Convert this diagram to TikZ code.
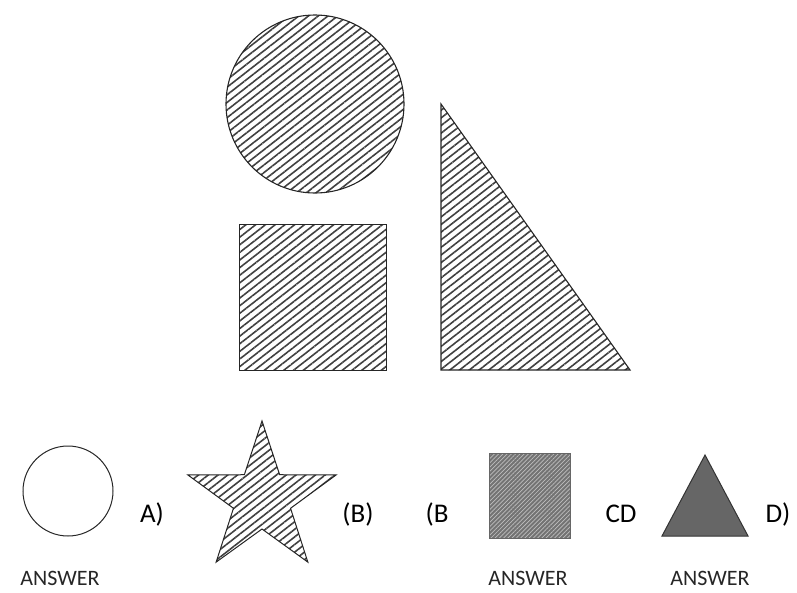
\documentclass[tikz,border=0pt]{standalone}
\usepackage{fontspec}
\setmainfont{Carlito}
\usetikzlibrary{patterns.meta}
\begin{document}
\begin{tikzpicture}[x=1pt,y=-1pt,
  outline/.style={draw=black!85,line width=1.1pt},
  hatch/.style={pattern={Lines[angle=38,distance=6pt,line width=1.6pt]},pattern color=black!75},
  lbl/.style={font=\fontsize{27}{29}\selectfont,text=black,inner sep=0pt},
  ans/.style={font=\fontsize{22}{24}\selectfont,text=black!85,inner sep=0pt}]
\useasboundingbox (0,0) rectangle (797,592);
% top shapes
\path[hatch] (315,104) circle (89);
\draw[outline] (315,104) circle (89);
\path[hatch] (239,224) rectangle (386,370);
\draw[outline,line width=0.9pt] (239,224) rectangle (386,370);
\path[hatch] (441,104) -- (441,370) -- (630,370) -- cycle;
\draw[outline] (441,104) -- (441,370) -- (630,370) -- cycle;
% bottom row
\draw[outline,line width=1pt] (68,491) circle (45);
\node[lbl] (la) at (152,514) {A)};
\path[hatch] (262,421)
  \foreach \i in {1,...,9}{ -- ({262+(mod(\i,2)==0 ? 78 : 30)*cos(90+36*\i)},{499-(mod(\i,2)==0 ? 78 : 30)*sin(90+36*\i)}) } -- cycle;
\draw[outline,line width=1pt] (262,421)
  \foreach \i in {1,...,9}{ -- ({262+(mod(\i,2)==0 ? 78 : 30)*cos(90+36*\i)},{499-(mod(\i,2)==0 ? 78 : 30)*sin(90+36*\i)}) } -- cycle;
\node[lbl] (lb) at (358,514) {(B)};
\node[lbl] (lc) at (437,514) {(B};
\fill[black!55] (489,453) rectangle (570,538);
\path[pattern={Lines[angle=45,distance=3pt,line width=0.7pt]},pattern color=black!25] (489,453) rectangle (570,538);
\draw[black!60,line width=1pt] (489,453) rectangle (570,538);
\node[lbl] (lcd) at (621,514) {CD};
\fill[black!60,draw=black!80,line width=1pt] (705,455) -- (662,536) -- (748,536) -- cycle;
\node[lbl] (ld) at (778,514) {D)};
\node[ans] (a1) at (60,578) {ANSWER};
\node[ans] (a2) at (528,578) {ANSWER};
\node[ans] (a3) at (710,578) {ANSWER};
\end{tikzpicture}
\end{document}
